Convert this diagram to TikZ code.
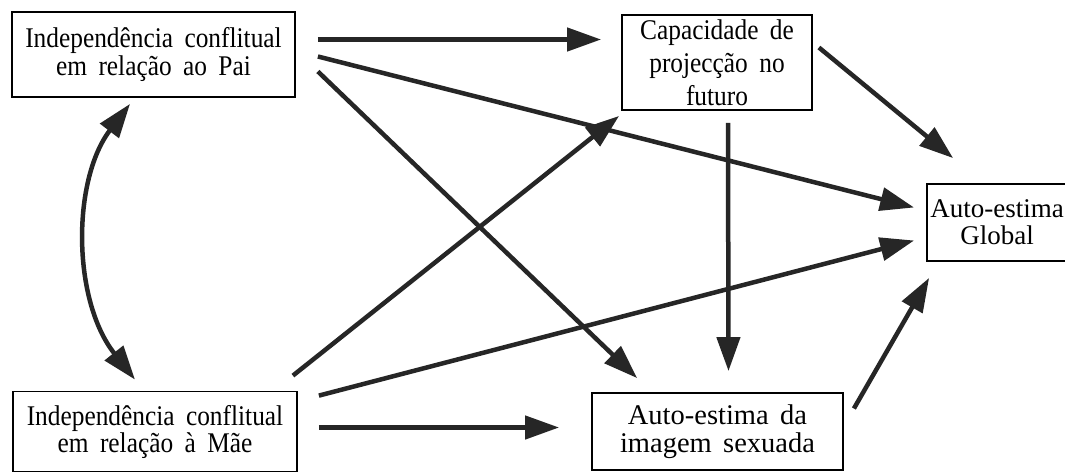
\documentclass[tikz,border=0pt]{standalone}
\usepackage{fontspec}
\setmainfont{Liberation Serif}
\newfontfamily\condf[FakeStretch=0.89]{Liberation Serif}
\usetikzlibrary{arrows.meta}
\begin{document}
\begin{tikzpicture}[x=1pt,y=-1pt,
  box/.style={draw=black, line width=1.8pt, inner sep=0pt, align=center,
    font=\fontsize{28.5}{28}\selectfont, execute at begin node={\spaceskip=0.4em\relax}},
  cbox/.style={box, font=\condf\fontsize{28.5}{28}\selectfont},
  arr/.style={line width=4.5pt, draw=black!85, -{Triangle[length=34pt,width=23pt]}},
  darr/.style={line width=4.5pt, draw=black!85, {Triangle[length=34pt,width=23pt]}-{Triangle[length=34pt,width=23pt]}},
  ]
\useasboundingbox (0,0) rectangle (1065,474);
\fill[white] (0,0) rectangle (1065,474);

\node[cbox, minimum width=283pt, minimum height=85pt] (pai) at (153.5,54.5) {Independência conflitual\\em relação ao Pai};
\node[cbox, minimum width=190pt, minimum height=95pt, font=\condf\fontsize{28.5}{33}\selectfont] (cap) at (717,62.5) {Capacidade de\\projecção no\\futuro};
\node[box, minimum width=140pt, minimum height=77pt, font=\fontsize{27}{27}\selectfont] (glob) at (997,222.5) {Auto-estima\\Global};
\node[cbox, minimum width=284pt, minimum height=80pt, font=\condf\fontsize{28.5}{27}\selectfont] (mae) at (155,431.5) {Independência conflitual\\em relação à Mãe};
\node[box, minimum width=251pt, minimum height=77pt] (sex) at (717.5,431.5) {Auto-estima da\\imagem sexuada};

% from Pai
\draw[arr] ([shift={(22,-15)}]pai.east) -- ([shift={(-20,-23)}]cap.west);
\draw[arr] ([shift={(22,2)}]pai.east) -- ([shift={(-12,-15)}]glob.west);
\draw[arr] ([shift={(22,17)}]pai.east) -- ([shift={(46,-14)}]sex.north west);
% from Capacidade
\draw[arr] ([shift={(6,-15)}]cap.east) -- ([shift={(27,-25)}]glob.north west);
\draw[arr] ([shift={(11,12)}]cap.south) -- ([shift={(11,-21)}]sex.north);
% from Mae
\draw[arr] ([shift={(-5,-15)}]mae.north east) -- ([shift={(-2,5)}]cap.south west);
\draw[arr] ([shift={(21,5)}]mae.north east) -- ([shift={(-12,18)}]glob.west);
\draw[arr] ([shift={(21,-4)}]mae.east) -- ([shift={(-32,-4)}]sex.west);
% from sexuada
\draw[arr] ([shift={(10,-23)}]sex.east) -- ([shift={(3,16)}]glob.south west);
% correlation
\draw[darr] ([shift={(-23.5,6)}]pai.south) .. controls (72,180) and (72,300) .. ([shift={(-20,-11)}]mae.north);
\end{tikzpicture}
\end{document}
